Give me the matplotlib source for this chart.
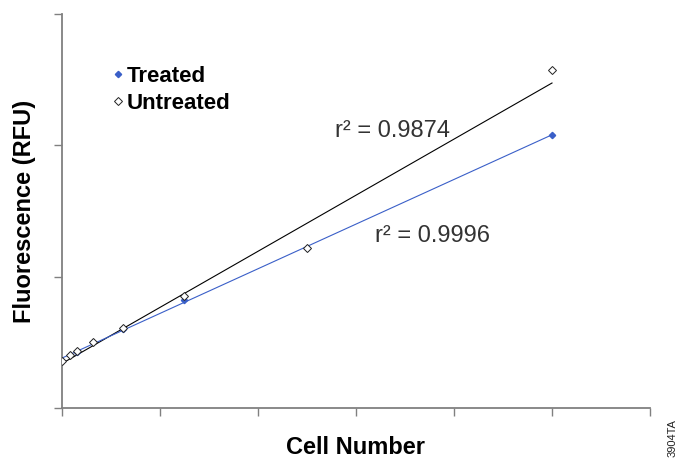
import numpy as np
import matplotlib
matplotlib.use("Agg")
import matplotlib.pyplot as plt
from matplotlib.lines import Line2D

cell_number = [0, 625, 1250, 2500, 5000, 10000, 20000, 40000]
treated = [360, 405, 430, 500, 600, 820, 1220, 2080]
untreated = [360, 405, 435, 500, 610, 850, 1220, 2570]
r2_treated = "r\u00b2 = 0.9996"
r2_untreated = "r\u00b2 = 0.9874"
x_ticks = [0, 8000, 16000, 24000, 32000, 40000, 48000]
y_ticks = [0, 1000, 2000, 3000]
series_names = ["Treated", "Untreated"]

blue = "#3a5fc8"
grey = "#808080"
bold_font = ["Liberation Sans Narrow", "Liberation Sans", "DejaVu Sans"]
reg_font = ["Liberation Sans", "DejaVu Sans"]

fig = plt.figure(figsize=(6.77, 4.59), dpi=100)
ax = fig.add_axes([62/677, 51/459, (650-62)/677, (408-14)/459])

x = np.array(cell_number, dtype=float)
yt = np.array(treated, dtype=float)
yu = np.array(untreated, dtype=float)
xs = np.array([x.min(), x.max()])
pt = np.polyfit(x, yt, 1)
pu = np.polyfit(x, yu, 1)
ax.plot(xs, np.polyval(pu, xs), color="black", lw=0.8, zorder=2)
ax.plot(xs, np.polyval(pt, xs), color=blue, lw=0.8, zorder=2)
ax.plot(x, yt, ls="none", marker="D", ms=3.2, mfc=blue, mec=blue, zorder=3)
ax.plot(x, yu, ls="none", marker="D", ms=3.6, mfc="white", mec="#222222", mew=0.7, zorder=4)

ax.set_xlim(x_ticks[0], x_ticks[-1])
ax.set_ylim(y_ticks[0], y_ticks[-1])
ax.set_xticks(x_ticks)
ax.set_yticks(y_ticks)
ax.tick_params(direction="out", length=6, width=1, color=grey,
               labelbottom=False, labelleft=False)
for s in ["top", "right"]:
    ax.spines[s].set_visible(False)
for s in ["left", "bottom"]:
    ax.spines[s].set_color(grey)
    ax.spines[s].set_linewidth(1.3)

ax.set_xlabel("Cell Number", fontsize=17, fontweight="bold", family=bold_font, labelpad=14)
ax.set_ylabel("Fluorescence (RFU)", fontsize=17, fontweight="bold", family=bold_font, labelpad=13)

ax.text(335, 459 - 137, r2_untreated, transform=None, fontsize=17, color="#333333",
        family=reg_font, va="baseline", ha="left")
ax.text(375, 459 - 242, r2_treated, transform=None, fontsize=17, color="#333333",
        family=reg_font, va="baseline", ha="left")

handles = [Line2D([], [], ls="none", marker="D", ms=3.2, mfc=blue, mec=blue),
           Line2D([], [], ls="none", marker="D", ms=3.6, mfc="white", mec="#222222", mew=0.7)]
leg = ax.legend(handles, series_names, loc="upper left", bbox_to_anchor=(0.055, 0.92),
                frameon=False, handlelength=0.3, handletextpad=0.25, labelspacing=0.3,
                prop={"family": bold_font, "weight": "bold", "size": 16})

fig.text(672.5/677, 2/459, "3904TA", rotation=90, fontsize=8, ha="center", va="bottom",
         family=reg_font, color="#222222")

fig.savefig("out.png", dpi=100)
